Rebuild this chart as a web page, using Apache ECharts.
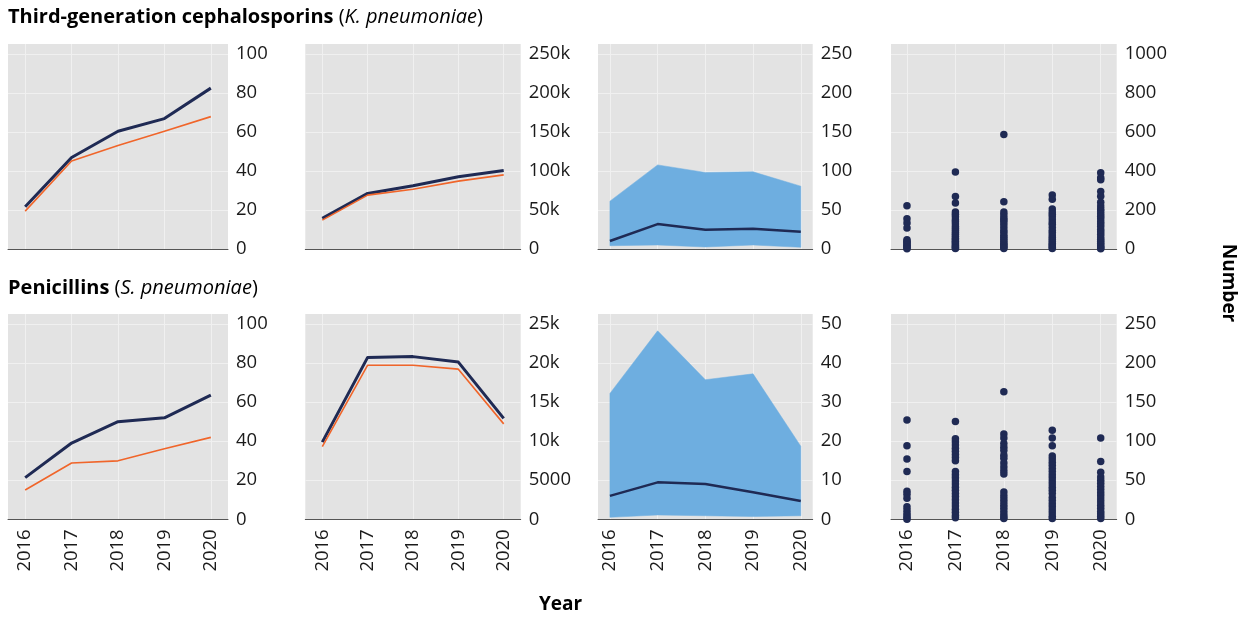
<!DOCTYPE html>
<html><head><meta charset="utf-8">
<script src="https://cdn.jsdelivr.net/npm/echarts@6/dist/echarts.min.js"></script>
<style>html,body{margin:0;padding:0;background:#fff}#c{width:1249px;height:619px}</style>
</head><body><div id="c"></div>
<script>
// ---------- DATA ----------
const years = [2016, 2017, 2018, 2019, 2020];

// Third-generation cephalosporins (K. pneumoniae)
const kpPctNavy = [21.6, 46.9, 60.3, 66.8, 82.4];
const kpPctOrange = [19.4, 45.1, 53.0, 60.3, 67.8];
const kpCountNavy = [39200, 71200, 80900, 92400, 100500];
const kpCountOrange = [37000, 69000, 76600, 86900, 94900];
const kpMedian = [10.2, 31.9, 24.7, 25.9, 22.1];
const kpBandLow = [4.2, 5.1, 2.6, 5.1, 2.2];
const kpBandHigh = [61.3, 107.7, 98.0, 98.8, 80.5];
const kpDots2016 = [221, 155, 133, 107, 47, 40, 33, 26, 19, 12, 6, 1];
const kpDots2017 = [394, 269, 235, 190, 178, 165, 150, 140, 128, 115, 105, 95, 85, 75, 65, 55, 48, 40, 32, 25, 18, 12, 6, 2];
const kpDots2018 = [586, 242, 190, 175, 160, 150, 140, 125, 110, 95, 85, 70, 60, 50, 40, 30, 22, 15, 8, 3];
const kpDots2019 = [277, 255, 205, 190, 178, 165, 150, 135, 125, 110, 95, 85, 72, 60, 50, 40, 30, 22, 15, 8, 3];
const kpDots2020 = [391, 365, 355, 294, 270, 240, 220, 205, 195, 180, 168, 155, 140, 128, 115, 100, 88, 75, 62, 50, 40, 30, 20, 12, 5, 1];

// Penicillins (S. pneumoniae)
const spPctNavy = [21.3, 39.0, 49.9, 51.9, 63.5];
const spPctOrange = [15.0, 28.8, 29.9, 36.1, 41.9];
const spCountNavy = [9870, 20700, 20800, 20100, 12900];
const spCountOrange = [9300, 19700, 19700, 19200, 12200];
const spMedian = [6.0, 9.45, 9.0, 6.9, 4.7];
const spBandLow = [0.5, 1.1, 0.9, 0.7, 0.9];
const spBandHigh = [32.2, 48.2, 35.7, 37.2, 18.7];
const spDots2016 = [127, 94, 77, 61, 36, 32, 27, 16, 12, 8, 5, 2, 0];
const spDots2017 = [125, 103, 99, 95, 91, 87, 83, 79, 75, 61, 57, 53, 49, 45, 41, 37, 33, 29, 25, 21, 17, 13, 9, 5, 2];
const spDots2018 = [163, 109, 104, 97, 92, 88, 82, 78, 72, 67, 62, 58, 35, 30, 26, 22, 18, 14, 10, 6, 3, 1];
const spDots2019 = [114, 104, 94, 81, 77, 73, 69, 65, 61, 57, 53, 49, 45, 41, 37, 33, 28, 24, 20, 16, 12, 8, 4, 1];
const spDots2020 = [104, 74, 60, 54, 50, 46, 42, 38, 34, 30, 26, 22, 18, 14, 10, 7, 4, 1];

// Tick labels
const yTicksPct = [0, 20, 40, 60, 80, 100];
const yTicksKpCount = [0, 50000, 100000, 150000, 200000, 250000];
const yTicksKpBand = [0, 50, 100, 150, 200, 250];
const yTicksKpDots = [0, 200, 400, 600, 800, 1000];
const yTicksSpCount = [0, 5000, 10000, 15000, 20000, 25000];
const yTicksSpBand = [0, 10, 20, 30, 40, 50];
const yTicksSpDots = [0, 50, 100, 150, 200, 250];

const titleTop = ['Third-generation cephalosporins', 'K. pneumoniae'];
const titleBottom = ['Penicillins', 'S. pneumoniae'];
const xTitle = 'Year';
const yTitle = 'Number';

// ---------- LAYOUT / STYLE ----------
const FONT = 'Open Sans';
const NAVY = '#1f2a54', ORANGE = '#f0652a', BLUE = '#6eaee0';
const BG = '#e3e3e3', GRIDC = '#f0f0f0', TXT = '#1a1a1a';
const cols = [[8, 228, 0.37], [305.3, 520.7, 0.375], [598, 812.7, 0.25], [891, 1116.7, 0.33]];
const rows = [[44, 249], [314, 519.3]];

const grids = [], xAxes = [], yAxes = [];
const yTickSets = [yTicksPct, yTicksKpCount, yTicksKpBand, yTicksKpDots, yTicksPct, yTicksSpCount, yTicksSpBand, yTicksSpDots];
const fmt = v => v >= 10000 ? (v / 1000) + 'k' : String(v);
for (let r = 0; r < 2; r++) {
  for (let c = 0; c < 4; c++) {
    const i = r * 4 + c;
    const [x0, x1, pad] = cols[c];
    const [y0, y1] = rows[r];
    grids.push({left: x0, top: y0, width: x1 - x0, height: y1 - y0, show: true, backgroundColor: BG, borderWidth: 0});
    xAxes.push({
      type: 'value', gridIndex: i, min: years[0] - pad, max: years[years.length - 1] + pad,
      axisLine: {show: true, onZero: false, lineStyle: {color: '#555', width: 1}},
      axisTick: {show: false, customValues: years},
      axisLabel: {show: r === 1, customValues: years, rotate: 90, margin: 10, fontSize: 18.5, fontFamily: FONT, color: TXT, formatter: v => String(v)},
      splitLine: {show: true, lineStyle: {color: GRIDC, width: 1}}
    });
    const ticks = yTickSets[i];
    yAxes.push({
      type: 'value', gridIndex: i, position: 'right', min: 0, max: ticks[ticks.length - 1] * 1.05,
      axisLine: {show: false}, axisTick: {show: false, customValues: ticks},
      axisLabel: {customValues: ticks, margin: 8, fontSize: 18.5, fontFamily: FONT, color: TXT, formatter: fmt},
      splitLine: {show: true, lineStyle: {color: GRIDC, width: 1}}
    });
  }
}

const pairs = arr => arr.map((v, k) => [years[k], v]);
const lineS = (i, arr, color, w) => ({type: 'line', xAxisIndex: i, yAxisIndex: i, data: pairs(arr), symbol: 'none', silent: true,
  lineStyle: {color: color, width: w, join: 'round'}, z: 3});
// ribbon drawn as one polygon through the axis scales
const band = (i, low, high) => ({
  type: 'custom', xAxisIndex: i, yAxisIndex: i, silent: true, z: 2,
  data: years.map((y, k) => [y, low[k], high[k]]),
  encode: {x: 0, y: [1, 2]},
  renderItem: (params, api) => {
    if (params.dataIndex !== 0) return null;
    const n = years.length, top = [], bot = [];
    for (let k = 0; k < n; k++) {
      top.push(api.coord([years[k], high[k]]));
      bot.push(api.coord([years[k], low[k]]));
    }
    return {type: 'polygon', shape: {points: top.concat(bot.reverse())}, style: {fill: BLUE, stroke: BLUE, lineWidth: 0.5}};
  }
});
const dots = (i, lists) => ({type: 'scatter', xAxisIndex: i, yAxisIndex: i, symbolSize: 7.5,
  itemStyle: {color: NAVY, opacity: 1},
  data: lists.flatMap((arr, k) => arr.map(v => [years[k], v])), z: 3});

const series = [
  lineS(0, kpPctNavy, NAVY, 3), lineS(0, kpPctOrange, ORANGE, 1.6),
  lineS(1, kpCountNavy, NAVY, 3), lineS(1, kpCountOrange, ORANGE, 1.6),
  band(2, kpBandLow, kpBandHigh), lineS(2, kpMedian, NAVY, 2.5),
  dots(3, [kpDots2016, kpDots2017, kpDots2018, kpDots2019, kpDots2020]),
  lineS(4, spPctNavy, NAVY, 3), lineS(4, spPctOrange, ORANGE, 1.6),
  lineS(5, spCountNavy, NAVY, 3), lineS(5, spCountOrange, ORANGE, 1.6),
  band(6, spBandLow, spBandHigh), lineS(6, spMedian, NAVY, 2.5),
  dots(7, [spDots2016, spDots2017, spDots2018, spDots2019, spDots2020])
];

const TS = 20;
const rich = {
  b: {fontWeight: 'bold', fontSize: TS, fontFamily: FONT, color: '#000'},
  n: {fontWeight: 'normal', fontSize: TS, fontFamily: FONT, color: '#000'},
  i: {fontWeight: 'normal', fontStyle: 'italic', fontSize: TS, fontFamily: FONT, color: '#000'}
};
const mkTitle = (t, top) => ({text: '{b|' + t[0] + '} {n|(}{i|' + t[1] + '}{n|)}', left: 8, top: top,
  padding: 0, textStyle: {rich: rich, fontSize: TS, fontFamily: FONT}});

const chart = echarts.init(document.getElementById('c'), null, {renderer: 'canvas'});
chart.setOption({
  animation: false,
  backgroundColor: '#fff',
  title: [mkTitle(titleTop, 7), mkTitle(titleBottom, 278)],
  grid: grids, xAxis: xAxes, yAxis: yAxes, series: series,
  graphic: [
    {type: 'text', left: 539, top: 595, style: {text: xTitle, font: 'bold 19px "Open Sans"', fill: '#000'}},
    {type: 'text', x: 1228, y: 283, rotation: -Math.PI / 2,
     style: {text: yTitle, font: 'bold 19px "Open Sans"', fill: '#000', align: 'center', verticalAlign: 'middle'}}
  ]
});
</script></body></html>
